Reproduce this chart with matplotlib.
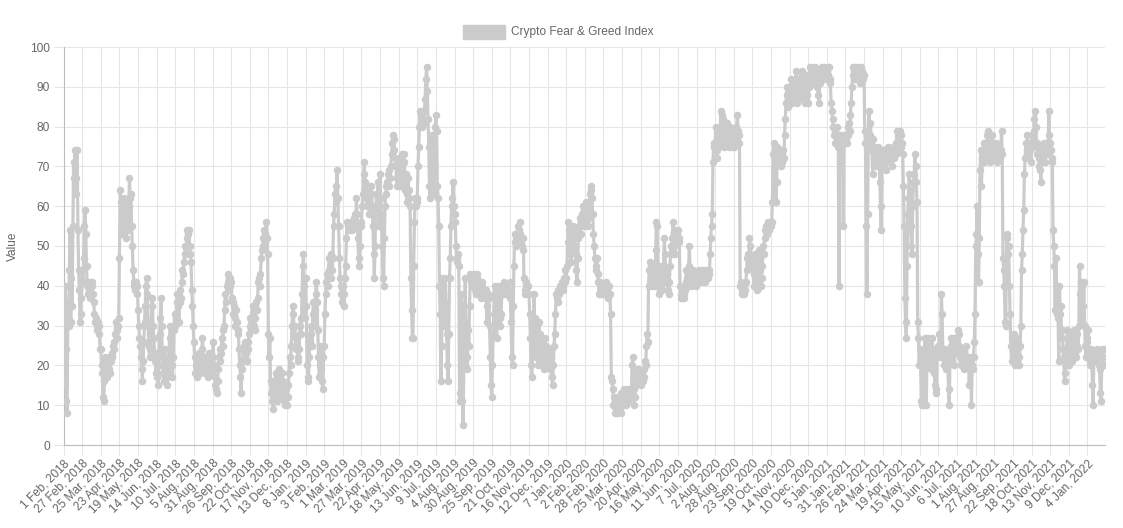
import numpy as np
import matplotlib
matplotlib.use("Agg")
from matplotlib import pyplot as plt
from matplotlib.patches import Rectangle

# daily index values, grouped roughly by year
fg_2018 = [30, 15, 40, 24, 11, 8, 36, 30, 44, 54, 31, 42, 35, 55, 71, 67, 74, 63, 67, 74, 54, 44, 39, 31, 33, 37,
           44, 41, 47, 55, 59, 53, 45, 40, 38, 41, 40, 37, 38, 41, 40, 38, 36, 33, 31, 32, 30, 29, 31, 30, 28, 24,
           24, 20, 18, 12, 11, 16, 22, 21, 19, 17, 20, 22, 19, 18, 21, 23, 22, 25, 26, 24, 28, 31, 29, 27, 30, 32,
           47, 64, 61, 55, 53, 57, 60, 62, 56, 52, 58, 61, 54, 60, 67, 62, 63, 55, 50, 44, 41, 40, 39, 41, 38, 40,
           34, 30, 27, 25, 22, 19, 16, 21, 26, 31, 35, 40, 42, 38, 30, 25, 22, 24, 27, 35, 37, 30, 27, 23, 21, 18,
           23, 17, 15, 20, 28, 32, 37, 30, 22, 18, 16, 20, 24, 19, 17, 15, 18, 22, 27, 30, 24, 20, 17, 22, 29, 33,
           30, 33, 36, 38, 35, 31, 36, 39, 37, 41, 44, 43, 46, 48, 50, 48, 52, 54, 53, 54, 50, 48, 46, 39, 35, 30,
           26, 22, 18, 20, 17, 19, 21, 23, 20, 18, 21, 24, 27, 22, 19, 18, 20, 22, 19, 17, 20, 23, 21, 19, 18, 22,
           22, 26, 20, 17, 15, 14, 13, 16, 19, 22, 24, 21, 23, 27, 25, 29, 30, 34, 38, 36, 40, 43, 41, 39, 42, 40,
           41, 37, 36, 33, 35, 32, 30, 34, 31, 28, 29, 24, 20, 17, 13, 19, 21, 24, 25, 22, 26, 23, 21, 24, 26, 28,
           30, 32, 29, 31, 35, 33, 30, 29, 32, 36, 34, 37, 41, 42, 40, 43, 47, 49, 50, 52, 54, 51, 53, 56, 52, 48,
           28, 22, 27, 16, 13, 11, 14, 9, 12, 15, 18, 14, 11, 13, 17, 19, 15, 12, 14, 18, 16, 13, 11, 10, 12, 14,
           10, 12, 15, 18, 22, 20, 25, 30, 35, 33, 28, 30, 27, 24, 26, 22, 21, 24, 30, 32, 28, 38, 45, 48, 40, 32]

fg_2019 = [42, 35, 20, 17, 16, 22, 26, 30, 28, 25, 33, 36, 30, 34, 38, 41, 36, 29, 22, 17, 20, 25, 19, 16, 14, 22,
           25, 33, 38, 41, 43, 40, 44, 47, 45, 48, 42, 44, 47, 55, 58, 63, 65, 61, 69, 62, 55, 47, 42, 40, 38, 36,
           40, 38, 35, 42, 45, 52, 56, 55, 54, 55, 54, 56, 55, 54, 55, 57, 56, 58, 55, 62, 58, 52, 47, 45, 50, 55,
           56, 60, 63, 68, 71, 66, 64, 62, 60, 65, 62, 58, 60, 63, 65, 60, 55, 48, 42, 50, 58, 63, 60, 66, 62, 55,
           68, 62, 58, 50, 42, 40, 52, 60, 63, 65, 66, 68, 69, 65, 67, 70, 73, 76, 78, 77, 74, 72, 70, 67, 65, 68,
           70, 72, 65, 68, 73, 70, 66, 73, 71, 64, 68, 63, 61, 67, 64, 62, 60, 42, 34, 27, 27, 45, 56, 62, 60, 61,
           62, 70, 75, 80, 84, 83, 80, 84, 82, 81, 84, 87, 92, 95, 89, 82, 75, 65, 62, 70, 78, 72, 68, 63, 74, 80,
           83, 79, 65, 62, 55, 40, 33, 16, 25, 42, 38, 30, 36, 42, 34, 28, 20, 16, 28, 42, 47, 55, 60, 62, 66, 60,
           58, 56, 50, 47, 46, 48, 45, 13, 11, 38, 35, 11, 5, 20, 31, 42, 30, 22, 19, 29, 25, 35, 43, 41, 42, 40,
           41, 43, 40, 39, 38, 42, 43, 41, 40, 38, 39, 37, 41, 40, 38, 39, 37, 38, 39, 31, 35, 38, 37, 30, 22, 15,
           12, 20, 28, 33, 40, 38, 31, 27, 35, 40, 37, 32, 30, 33, 38, 40, 39, 41, 38, 40, 39, 38, 40, 39, 38, 41,
           37, 31, 22, 20, 35, 45, 53, 51, 50, 52, 53, 55, 54, 56, 53, 51, 50, 49, 52, 42, 39, 38, 41, 40, 38, 40,
           38, 33, 27, 20, 17, 23, 31, 38, 25, 32, 22, 28, 20, 24, 31, 22, 28, 21, 26, 20, 24, 19, 27, 22, 25, 21,
           23, 21, 20, 24, 19, 22, 17, 15, 20, 25, 28, 33, 38, 37, 36, 39, 38, 40, 39, 40, 41, 39, 40, 42, 41, 44]

fg_2020 = [42, 45, 51, 56, 54, 52, 48, 46, 50, 54, 55, 53, 50, 48, 44, 41, 47, 52, 55, 57, 53, 56, 58, 60, 57, 55,
           58, 61, 56, 60, 57, 55, 59, 63, 65, 64, 62, 58, 53, 50, 47, 45, 44, 47, 43, 41, 38, 41, 40, 38, 40, 38,
           40, 39, 38, 41, 40, 39, 37, 38, 40, 38, 33, 17, 16, 14, 10, 12, 8, 9, 11, 8, 10, 12, 11, 9, 13, 8,
           10, 12, 11, 14, 12, 13, 10, 12, 14, 11, 13, 14, 12, 13, 20, 22, 14, 10, 12, 18, 15, 17, 19, 17, 16, 18,
           17, 15, 18, 16, 17, 19, 21, 20, 25, 28, 26, 40, 44, 46, 42, 45, 40, 43, 41, 44, 40, 49, 56, 55, 44, 38,
           42, 45, 40, 44, 39, 41, 45, 52, 48, 44, 41, 43, 39, 38, 41, 45, 50, 48, 52, 56, 53, 50, 48, 52, 54, 53,
           54, 52, 51, 40, 38, 37, 38, 37, 38, 37, 39, 41, 44, 42, 40, 45, 50, 43, 41, 40, 42, 44, 41, 43, 42, 40,
           42, 43, 41, 44, 42, 43, 41, 44, 43, 42, 44, 43, 41, 42, 44, 43, 42, 44, 43, 48, 52, 55, 58, 71, 76, 75,
           76, 80, 74, 72, 75, 78, 76, 79, 84, 83, 80, 82, 77, 75, 79, 78, 76, 81, 77, 75, 78, 80, 76, 79, 77, 75,
           77, 75, 78, 80, 79, 83, 79, 76, 78, 40, 41, 38, 39, 38, 40, 38, 39, 41, 44, 47, 48, 45, 52, 50, 47, 45,
           47, 44, 40, 43, 48, 46, 42, 39, 44, 49, 47, 44, 40, 42, 45, 50, 48, 52, 54, 55, 53, 55, 56, 54, 55, 56,
           55, 56, 61, 73, 76, 74, 72, 61, 66, 75, 73, 71, 74, 72, 70, 73, 71, 74, 72, 78, 82, 86, 90, 88, 85, 89,
           90, 87, 92, 89, 86, 88, 90, 87, 91, 94, 89, 86, 88, 92, 90, 87, 89, 93, 94, 91, 88, 86, 90, 93, 92, 88,
           86, 90, 93, 95, 94, 92, 95, 93, 91, 94, 95, 92, 90, 93, 88, 86, 91, 93, 94, 95, 94, 93, 95, 94, 92, 93]

fg_2021 = [94, 95, 93, 95, 92, 91, 86, 84, 82, 80, 78, 79, 76, 78, 80, 77, 75, 40, 77, 78, 76, 78, 76, 55, 78, 76,
           78, 77, 76, 78, 80, 81, 79, 83, 86, 90, 93, 95, 94, 92, 95, 93, 94, 95, 92, 94, 93, 91, 95, 94, 93, 92,
           93, 79, 76, 55, 38, 58, 78, 84, 78, 81, 76, 74, 68, 77, 75, 72, 74, 70, 73, 71, 75, 73, 66, 60, 54, 72,
           74, 70, 73, 71, 69, 72, 74, 75, 72, 73, 71, 74, 72, 70, 73, 75, 72, 74, 73, 76, 79, 78, 74, 76, 79, 75,
           78, 76, 73, 65, 55, 37, 31, 27, 45, 58, 62, 68, 64, 55, 50, 48, 60, 66, 68, 73, 70, 66, 61, 31, 27, 20,
           24, 20, 11, 10, 23, 18, 10, 27, 21, 10, 24, 27, 20, 22, 25, 19, 23, 27, 21, 24, 18, 15, 14, 13, 22, 25,
           23, 28, 25, 22, 38, 33, 24, 22, 20, 24, 21, 19, 23, 20, 14, 10, 21, 25, 27, 22, 24, 27, 20, 23, 26, 24,
           27, 29, 25, 28, 22, 20, 24, 21, 23, 19, 22, 21, 20, 25, 22, 21, 20, 15, 21, 22, 10, 20, 19, 22, 26, 33,
           50, 53, 60, 48, 41, 52, 69, 74, 65, 72, 74, 71, 76, 73, 75, 72, 78, 79, 76, 73, 71, 74, 72, 78, 75, 73,
           74, 72, 76, 73, 71, 74, 75, 73, 72, 74, 79, 73, 47, 44, 40, 31, 30, 52, 53, 48, 50, 40, 33, 25, 21, 27,
           25, 28, 22, 20, 27, 24, 21, 26, 22, 20, 25, 30, 44, 48, 54, 59, 68, 72, 76, 74, 78, 75, 72, 76, 74, 71,
           75, 78, 76, 79, 82, 84, 80, 76, 73, 75, 72, 70, 69, 66, 72, 75, 74, 76, 73, 71, 74, 76, 75, 73, 84, 78,
           76, 74, 72, 71, 54, 50, 45, 34, 47, 40, 33, 32, 21, 40, 33, 35, 27, 29, 24, 22, 16, 18, 20, 24, 29, 25,
           20, 26, 22, 28, 24, 21, 25, 29, 23, 27, 22, 25, 28, 24, 30, 45, 38, 41, 31, 40, 35, 41, 30, 25, 22, 26]

fg_2022 = [27, 29, 22, 21, 20, 24, 21, 15, 10, 23, 22, 21, 23, 22, 24, 23, 20, 19, 13, 11, 20, 24, 22, 24, 20]

tick_labels = ["1 Feb, 2018", "27 Feb, 2018", "25 Mar, 2018", "23 Apr, 2018", "19 May, 2018", "14 Jun, 2018",
               "10 Jul, 2018", "5 Aug, 2018", "31 Aug, 2018", "26 Sep, 2018", "22 Oct, 2018", "17 Nov, 2018",
               "13 Dec, 2018", "8 Jan, 2019", "3 Feb, 2019", "1 Mar, 2019", "27 Mar, 2019", "22 Apr, 2019",
               "18 May, 2019", "13 Jun, 2019", "9 Jul, 2019", "4 Aug, 2019", "30 Aug, 2019", "25 Sep, 2019",
               "21 Oct, 2019", "16 Nov, 2019", "12 Dec, 2019", "7 Jan, 2020", "2 Feb, 2020", "28 Feb, 2020",
               "25 Mar, 2020", "20 Apr, 2020", "16 May, 2020", "11 Jun, 2020", "7 Jul, 2020", "2 Aug, 2020",
               "28 Aug, 2020", "23 Sep, 2020", "19 Oct, 2020", "14 Nov, 2020", "10 Dec, 2020", "5 Jan, 2021",
               "31 Jan, 2021", "26 Feb, 2021", "24 Mar, 2021", "19 Apr, 2021", "15 May, 2021", "10 Jun, 2021",
               "6 Jul, 2021", "1 Aug, 2021", "27 Aug, 2021", "22 Sep, 2021", "18 Oct, 2021", "13 Nov, 2021",
               "9 Dec, 2021", "4 Jan, 2022"]
tick_step = 26

values = np.array(fg_2018 + fg_2019 + fg_2020 + fg_2021 + fg_2022)
idx = np.arange(len(values))

plt.rcParams['font.family'] = ['Liberation Sans', 'DejaVu Sans']
text_col = '#666666'
grid_col = '#e6e6e6'
line_col = '#cbcbcb'
fs = 8.6

fig = plt.figure(figsize=(11.23, 5.28), dpi=100)
ax = fig.add_axes([63.6 / 1123, 1 - 445 / 528, (1104.6 - 63.6) / 1123, (445 - 47) / 528])

ax.plot(idx, values, color=line_col, lw=2.3, marker='o', ms=4.4, mfc=line_col, mec=line_col, zorder=3)

ax.set_xlim(0, len(values) - 1)
ax.set_ylim(0, 100)
ax.set_yticks(np.arange(0, 101, 10))
ax.set_xticks(idx[::tick_step][:len(tick_labels)])
ax.set_xticklabels(tick_labels, rotation=45, ha='right', rotation_mode='anchor')

ax.grid(True, color=grid_col, lw=0.8)
ax.set_axisbelow(True)
ax.tick_params(axis='both', length=7, width=0.8, color=grid_col, labelcolor=text_col, labelsize=fs)
ax.tick_params(axis='x', pad=2)
ax.tick_params(axis='y', pad=3)
for side in ['top', 'right']:
    ax.spines[side].set_visible(False)
for side in ['left', 'bottom']:
    ax.spines[side].set_color('#bdbdbd')
    ax.spines[side].set_linewidth(0.8)

ax.set_ylabel('Value', color=text_col, fontsize=fs, labelpad=8)

# legend box like the original
fig.patches.append(Rectangle((463 / 1123, 1 - 39 / 528), 42 / 1123, 14 / 528,
                             transform=fig.transFigure, facecolor=line_col, edgecolor=line_col, lw=1))
fig.text(511 / 1123, 1 - 32.5 / 528, 'Crypto Fear & Greed Index', color=text_col, fontsize=fs,
         ha='left', va='center')

fig.savefig('out.png', dpi=100)
